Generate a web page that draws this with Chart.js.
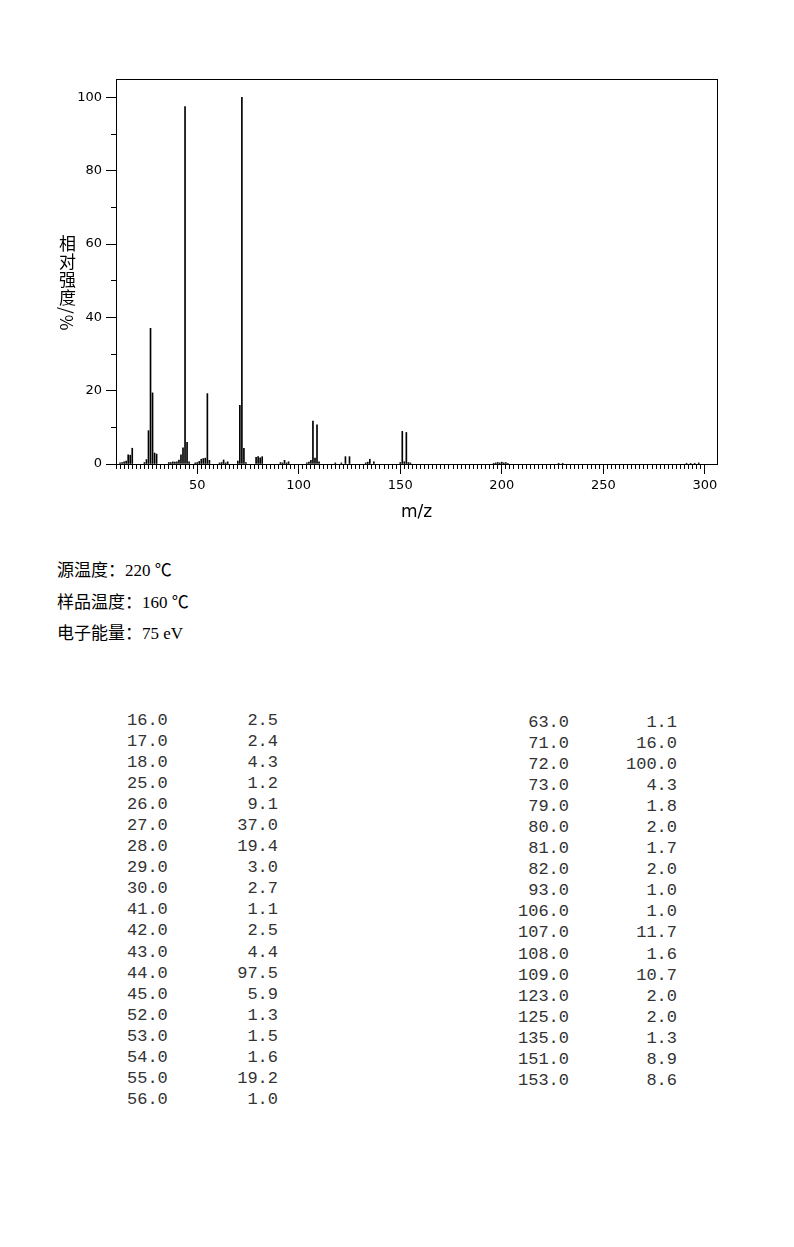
<!DOCTYPE html>
<html>
<head>
<meta charset="utf-8">
<script src="https://cdn.jsdelivr.net/npm/chart.js@4.4.1/dist/chart.umd.min.js"></script>
<style>
  body { margin: 0; background: #fff; width: 794px; height: 1247px; position: relative; overflow: hidden; }
  #chartBox { position: absolute; left: 0; top: 0; width: 794px; height: 540px; }
  .ytitle { position: absolute; left: 55px; top: 235px; writing-mode: vertical-rl; font: 17px "Noto Sans CJK SC"; letter-spacing: 1px; color: #000; }
  .info { position: absolute; left: 57px; font: 17px "Liberation Serif", "Noto Sans CJK SC"; line-height: 20px; color: #000; white-space: pre; }
  .col { position: absolute; font: 17px "Liberation Mono", monospace; color: #333; }
  .row { display: flex; height: 21.05px; line-height: 21.05px; white-space: pre; }
  .row span { display: block; }
</style>
</head>
<body>
<div id="chartBox"><canvas id="ms" width="794" height="540"></canvas></div>
<div class="ytitle">相对强度/%</div>
<div class="info" style="top:561px">源温度：220 ℃</div>
<div class="info" style="top:593px">样品温度：160 ℃</div>
<div class="info" style="top:624px">电子能量：75 eV</div>
<div class="col" id="colLeft" style="left:127px; top:710px"></div>
<div class="col" id="colRight" style="left:500px; top:712px"></div>

<script>
// peaks (m/z, relative intensity %)
const mzValues = [12, 13, 14, 15, 16, 17, 18,
  24, 25, 26, 27, 28, 29, 30,
  36, 37, 38, 39, 40, 41, 42, 43, 44, 45, 46,
  49, 50, 51, 52, 53, 54, 55, 56,
  61, 62, 63, 64, 65,
  70, 71, 72, 73, 74,
  79, 80, 81, 82,
  91, 92, 93, 94, 95,
  104, 105, 106, 107, 108, 109, 110,
  118, 121, 123, 125,
  133, 134, 135, 137,
  150, 151, 152, 153, 154, 155,
  196, 197, 198, 199, 200, 201, 202, 203,
  228, 230,
  291, 293, 295, 297];
const intensities = [0.3, 0.4, 0.6, 0.8, 2.5, 2.4, 4.3,
  0.4, 1.2, 9.1, 37.0, 19.4, 3.0, 2.7,
  0.4, 0.4, 0.6, 0.5, 0.6, 1.1, 2.5, 4.4, 97.5, 5.9, 0.6,
  0.3, 0.4, 0.7, 1.3, 1.5, 1.6, 19.2, 1.0,
  0.3, 0.4, 1.1, 0.3, 0.6,
  0.8, 16.0, 100.0, 4.3, 0.4,
  1.8, 2.0, 1.7, 2.0,
  0.4, 0.3, 1.0, 0.3, 0.6,
  0.3, 0.5, 1.0, 11.7, 1.6, 10.7, 0.6,
  0.3, 0.3, 2.0, 2.0,
  0.3, 0.5, 1.3, 0.6,
  0.4, 8.9, 0.6, 8.6, 0.4, 0.3,
  0.2, 0.3, 0.4, 0.3, 0.5, 0.3, 0.4, 0.2,
  0.2, 0.2,
  0.2, 0.2, 0.2, 0.3];

const xMin = 10, xMax = 306;
const yMin = 0, yMax = 105;
const xTickLabels = [50, 100, 150, 200, 250, 300];
const yTickLabels = [0, 20, 40, 60, 80, 100];
const xMinorStep = 2, yMinorStep = 10;
const lastTick = { x: 300, y: 100 };
const tableCutoff = 1.0;

const black = '#000';
const tickFont = { family: 'DejaVu Sans', size: 13 };

function zeroHeight(s) { s.height = 0; }
function zeroWidth(s) { s.width = 0; }

new Chart(document.getElementById('ms'), {
  type: 'bar',
  data: {
    datasets: [{
      data: mzValues.map((m, i) => ({ x: m, y: intensities[i] })),
      backgroundColor: black,
      borderWidth: 0,
      barThickness: 1
    }]
  },
  options: {
    responsive: false,
    animation: false,
    layout: { padding: { left: 0, top: 79, right: 77, bottom: 16 } },
    plugins: { legend: { display: false }, tooltip: { enabled: false } },
    scales: {
      // minor ticks, sit right against the plot
      x: {
        type: 'linear', position: 'bottom', weight: 0, min: xMin, max: xMax, offset: false,
        ticks: { display: false, stepSize: xMinorStep, autoSkip: false, includeBounds: false, maxTicksLimit: 1000 },
        grid: { offset: false, drawOnChartArea: false, tickLength: 5, tickColor: black },
        border: { display: false },
        afterBuildTicks: s => { s.ticks = s.ticks.filter(t => t.value <= lastTick.x); },
        afterFit: zeroHeight
      },
      xMajor: {
        type: 'linear', position: 'bottom', weight: 1, min: xMin, max: xMax, offset: false,
        ticks: { autoSkip: false, maxRotation: 0, padding: 4, color: black, font: tickFont },
        grid: { offset: false, drawOnChartArea: false, tickLength: 10, tickColor: black },
        border: { display: true, color: black, width: 1 },
        title: { display: true, text: 'm/z', color: black, font: { family: 'DejaVu Sans', size: 17 }, padding: { top: 0, bottom: 1 } },
        afterBuildTicks: s => { s.ticks = xTickLabels.map(v => ({ value: v })); },
        afterFit: s => { s.height = 60; }
      },
      xTop: {
        type: 'linear', position: 'top', min: xMin, max: xMax, offset: false,
        ticks: { display: false },
        grid: { drawOnChartArea: false, drawTicks: false },
        border: { display: true, color: black, width: 1 },
        afterFit: zeroHeight
      },
      y: {
        type: 'linear', position: 'left', weight: 0, min: yMin, max: yMax,
        ticks: { display: false, stepSize: yMinorStep, includeBounds: false, maxTicksLimit: 1000 },
        grid: { drawOnChartArea: false, tickLength: 5, tickColor: black },
        border: { display: false },
        afterBuildTicks: s => { s.ticks = s.ticks.filter(t => t.value <= lastTick.y); },
        afterFit: zeroWidth
      },
      yMajor: {
        type: 'linear', position: 'left', weight: 1, min: yMin, max: yMax,
        ticks: { padding: 4, color: black, font: tickFont },
        grid: { drawOnChartArea: false, tickLength: 10, tickColor: black },
        border: { display: true, color: black, width: 1 },
        afterBuildTicks: s => { s.ticks = yTickLabels.map(v => ({ value: v })); },
        afterFit: s => { s.width = 116; }
      },
      yRight: {
        type: 'linear', position: 'right', min: yMin, max: yMax,
        ticks: { display: false },
        grid: { drawOnChartArea: false, drawTicks: false },
        border: { display: true, color: black, width: 1 },
        afterFit: zeroWidth
      }
    }
  }
});

// peak list below the chart: every peak at or above the cutoff
const listed = mzValues.map((m, i) => [m, intensities[i]]).filter(p => p[1] >= tableCutoff);
const half = Math.ceil(listed.length / 2);

function fillColumn(el, rows, mzWidth, mzAlign, valWidth) {
  rows.forEach(([m, v]) => {
    const row = document.createElement('div');
    row.className = 'row';
    const a = document.createElement('span');
    a.style.width = mzWidth + 'px';
    a.style.textAlign = mzAlign;
    a.textContent = m.toFixed(1);
    const b = document.createElement('span');
    b.style.width = valWidth + 'px';
    b.style.textAlign = 'right';
    b.textContent = v.toFixed(1);
    row.appendChild(a);
    row.appendChild(b);
    el.appendChild(row);
  });
}
fillColumn(document.getElementById('colLeft'), listed.slice(0, half), 60, 'left', 91);
fillColumn(document.getElementById('colRight'), listed.slice(half), 69, 'right', 108);
</script>
</body>
</html>
